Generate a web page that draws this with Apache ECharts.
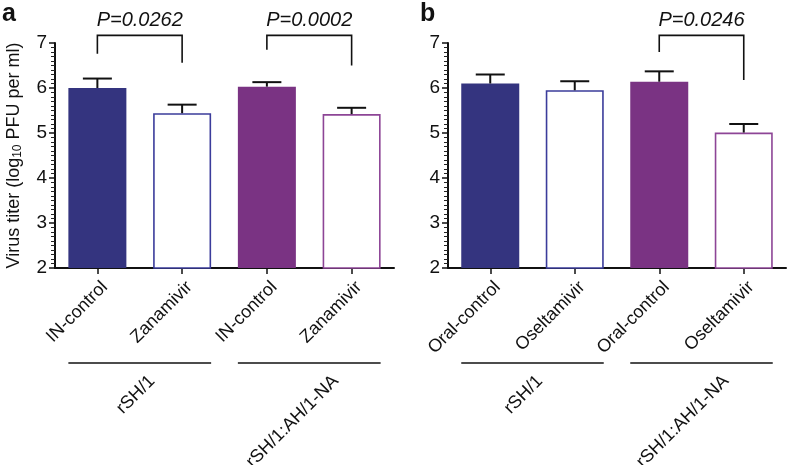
<!DOCTYPE html>
<html>
<head>
<meta charset="utf-8">
<script src="https://cdn.jsdelivr.net/npm/echarts@6/dist/echarts.min.js"></script>
<style>html,body{margin:0;padding:0;background:#fff}#c{width:788px;height:465px}</style>
</head>
<body>
<div id="c"></div>
<script>
// ---------- data ----------
const catsA = ['IN-control', 'Zanamivir', 'IN-control', 'Zanamivir'];
const meanA = [6.00, 5.44, 6.03, 5.42];
const errA  = [0.21, 0.19, 0.10, 0.14];
const catsB = ['Oral-control', 'Oseltamivir', 'Oral-control', 'Oseltamivir'];
const meanB = [6.10, 5.95, 6.14, 5.01];
const errB  = [0.20, 0.20, 0.23, 0.19];
const groupNames = ['rSH/1', 'rSH/1:AH/1-NA'];
const groupSpans = [[0, 1], [2, 3]];
// brackets: [fromIdx, toIdx, topValue, leftLegBottom, rightLegBottom]
const bracketsA = [[0, 1, 7.17, 6.76, 6.56], [2, 3, 7.17, 6.85, 6.50]];
const pLabelsA  = ['P=0.0262', 'P=0.0002'];
const bracketsB = [[2, 3, 7.17, 6.80, 6.18]];
const pLabelsB  = ['P=0.0246'];
const yTicks = [2, 3, 4, 5, 6, 7];

// ---------- styles ----------
const FONT = '"Liberation Sans", Arial, Helvetica, sans-serif';
const BLUE = '#34347f', PURPLE = '#7a3383';
const BLUE_LINE = '#3b3c9b', PURPLE_LINE = '#8d4596';
const BAR_W = 58;
const GROUP_LABEL_DX = [[6, 20], [1, 18]];
function barStyle(i) {
  if (i === 0) return { color: BLUE };
  if (i === 1) return { color: '#fff', borderColor: BLUE_LINE, borderWidth: 1.6 };
  if (i === 2) return { color: PURPLE };
  return { color: '#fff', borderColor: PURPLE_LINE, borderWidth: 1.6 };
}

const chart = echarts.init(document.getElementById('c'), null, { renderer: 'canvas' });

function yAxisCfg(gi, withName) {
  const c = {
    type: 'value', gridIndex: gi, min: yTicks[0], max: yTicks[yTicks.length - 1], interval: 1,
    axisLine: { show: true, lineStyle: { color: '#111', width: 2 } },
    axisTick: { show: true, length: 6, lineStyle: { color: '#111', width: 1.5 } },
    minorTick: { show: true, splitNumber: 10, length: 4, lineStyle: { color: '#222', width: 1 } },
    splitLine: { show: false },
    axisLabel: { fontSize: 19, color: '#111', fontFamily: FONT, margin: 8 }
  };
  if (withName) {
    c.name = '{n|Virus titer (log}{s|10}{n| PFU per ml)}';
    c.nameLocation = 'middle';
    c.nameGap = 30;
    c.nameRotate = 90;
    c.nameTextStyle = {
      rich: {
        n: { fontSize: 18, fontFamily: FONT, color: '#111', lineHeight: 22 },
        s: { fontSize: 12, fontFamily: FONT, color: '#111', lineHeight: 22, padding: [8, 0, 0, 0] }
      }
    };
  }
  return c;
}
function xAxisCfg(gi, cats) {
  return {
    type: 'category', gridIndex: gi, data: cats,
    axisLine: { show: true, lineStyle: { color: '#111', width: 2 } },
    axisTick: { show: true, alignWithLabel: true, length: 6, lineStyle: { color: '#111', width: 1.5 } },
    axisLabel: { show: false },
    splitLine: { show: false }
  };
}

function barSeries(gi, means) {
  return {
    type: 'bar', xAxisIndex: gi, yAxisIndex: gi, barWidth: BAR_W, z: 2,
    data: means.map((v, i) => ({ value: v, itemStyle: barStyle(i) })),
    silent: true
  };
}
function errSeries(gi, means, errs) {
  return {
    type: 'custom', xAxisIndex: gi, yAxisIndex: gi, z: 5, clip: false, silent: true,
    data: means.map((v, i) => [i, v, errs[i]]),
    renderItem: function (params, api) {
      const p0 = api.coord([api.value(0), api.value(1)]);
      const p1 = api.coord([api.value(0), api.value(1) + api.value(2)]);
      const st = { stroke: '#111', lineWidth: 2 };
      return { type: 'group', children: [
        { type: 'line', shape: { x1: p0[0], y1: p0[1], x2: p1[0], y2: p1[1] }, style: st },
        { type: 'line', shape: { x1: p1[0] - 14.5, y1: p1[1], x2: p1[0] + 14.5, y2: p1[1] }, style: st }
      ] };
    }
  };
}
function bracketSeries(gi, brs, labels) {
  return {
    type: 'custom', xAxisIndex: gi, yAxisIndex: gi, z: 5, clip: false, silent: true,
    data: brs,
    renderItem: function (params, api) {
      const a = api.value(0), b = api.value(1), top = api.value(2);
      const pl = api.coord([a, api.value(3)]);
      const pr = api.coord([b, api.value(4)]);
      const tl = api.coord([a, top]);
      const tr = api.coord([b, top]);
      const st = { stroke: '#111', lineWidth: 1.6, fill: null };
      return { type: 'group', children: [
        { type: 'polyline', shape: { points: [pl, tl, tr, pr] }, style: st },
        { type: 'text', x: (tl[0] + tr[0]) / 2, y: tl[1] - 5,
          style: { text: labels[params.dataIndex], fontSize: 20, fontStyle: 'italic', fontFamily: FONT,
                   fill: '#111', align: 'center', verticalAlign: 'bottom' } }
      ] };
    }
  };
}
function xLabelSeries(gi, cats) {
  return {
    type: 'custom', xAxisIndex: gi, yAxisIndex: gi, z: 5, clip: false, silent: true,
    data: cats.map((c, i) => [i, yTicks[0]]),
    renderItem: function (params, api) {
      const p = api.coord([api.value(0), api.value(1)]);
      return { type: 'text', x: p[0] + 1, y: p[1] + 10, rotation: Math.PI / 4,
        style: { text: cats[params.dataIndex], fontSize: 18, fontFamily: FONT, fill: '#111',
                 align: 'right', verticalAlign: 'top' } };
    }
  };
}
function groupSeries(gi) {
  return {
    type: 'custom', xAxisIndex: gi, yAxisIndex: gi, z: 5, clip: false, silent: true,
    data: groupSpans,
    renderItem: function (params, api) {
      const p0 = api.coord([api.value(0), yTicks[0]]);
      const p1 = api.coord([api.value(1), yTicks[0]]);
      const x0 = p0[0] - BAR_W / 2, x1 = p1[0] + BAR_W / 2, y = p0[1] + 95;
      return { type: 'group', children: [
        { type: 'line', shape: { x1: x0, y1: y, x2: x1, y2: y }, style: { stroke: '#111', lineWidth: 1.6 } },
        { type: 'text', x: (x0 + x1) / 2 + GROUP_LABEL_DX[gi][params.dataIndex], y: y + 9, rotation: Math.PI / 4,
          style: { text: groupNames[params.dataIndex], fontSize: 18, fontFamily: FONT, fill: '#111',
                   align: 'right', verticalAlign: 'top' } }
      ] };
    }
  };
}

chart.setOption({
  animation: false,
  backgroundColor: '#fff',
  grid: [
    { left: 55, top: 43, width: 339, height: 225 },
    { left: 448, top: 43, width: 338, height: 225 }
  ],
  xAxis: [xAxisCfg(0, catsA), xAxisCfg(1, catsB)],
  yAxis: [yAxisCfg(0, true), yAxisCfg(1, false)],
  graphic: [
    { type: 'text', left: 2, top: 2, style: { text: 'a', fontSize: 25, fontWeight: 'bold', fontFamily: FONT, fill: '#111' } },
    { type: 'text', left: 420, top: 2, style: { text: 'b', fontSize: 25, fontWeight: 'bold', fontFamily: FONT, fill: '#111' } }
  ],
  series: [
    barSeries(0, meanA), errSeries(0, meanA, errA), bracketSeries(0, bracketsA, pLabelsA),
    xLabelSeries(0, catsA), groupSeries(0),
    barSeries(1, meanB), errSeries(1, meanB, errB), bracketSeries(1, bracketsB, pLabelsB),
    xLabelSeries(1, catsB), groupSeries(1)
  ]
});
</script>
</body>
</html>
